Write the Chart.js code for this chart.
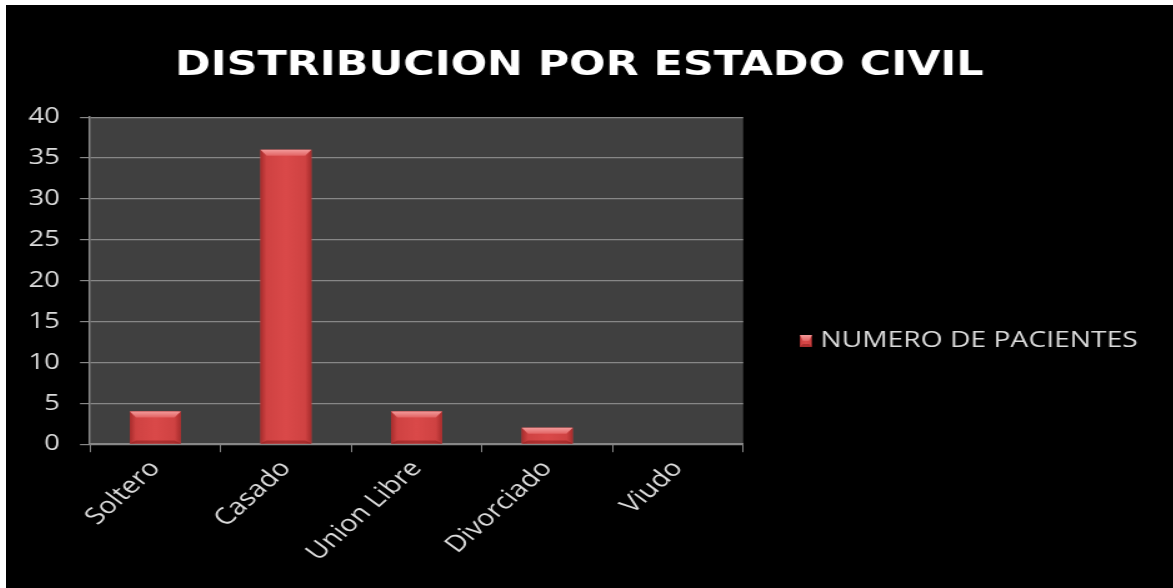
<!DOCTYPE html>
<html lang="es">
<head>
<meta charset="utf-8">
<title>Distribucion por estado civil</title>
<script src="https://cdn.jsdelivr.net/npm/chart.js@4.4.1/dist/chart.umd.min.js"></script>
<style>
    html, body { margin: 0; padding: 0; background: #fff; overflow: hidden; }
    #frame { position: absolute; left: 6px; top: 5px; width: 1167px; height: 583px; background: #000; overflow: hidden; }
    /* el gráfico se dibuja estrecho y se estira a lo ancho del marco */
    #estadoChart { display: block; transform: scaleX(1.25); transform-origin: 0 0; }
</style>
</head>
<body>
<div id="frame"><canvas id="estadoChart" width="934" height="583"></canvas></div>
<script>
// ================================================================
// DATOS
// ================================================================
const categorias  = ['Soltero', 'Casado', 'Union Libre', 'Divorciado', 'Viudo'];
const pacientes   = [4, 36, 4, 2, 0];
const ticksY      = [0, 5, 10, 15, 20, 25, 30, 35, 40];
const tituloTexto = 'DISTRIBUCION POR ESTADO CIVIL';
const serieNombre = 'NUMERO DE PACIENTES';

const GRIS_EJE  = '#878787';
const TEXTO_EJE = '#dcdcdc';
const MARCA_W   = 9.6, MARCA_H = 12;

// Barra roja con bisel (cuerpo degradado + borde superior claro)
function pintarBarra(ctx, left, top, right, bottom) {
    const w = right - left, h = bottom - top;
    if (h < 1) return;
    const bx = Math.min(5, w / 4), by = Math.min(6, h / 2);

    const g = ctx.createLinearGradient(left, 0, right, 0);
    g.addColorStop(0,    '#a62c2c');
    g.addColorStop(0.12, '#cf4242');
    g.addColorStop(0.5,  '#da4949');
    g.addColorStop(0.88, '#cf4242');
    g.addColorStop(1,    '#a62c2c');
    ctx.fillStyle = g;
    ctx.fillRect(left, top, w, h);

    // bisel superior
    const gt = ctx.createLinearGradient(0, top, 0, top + by);
    gt.addColorStop(0, '#f39a9a');
    gt.addColorStop(1, '#e26262');
    ctx.beginPath();
    ctx.moveTo(left, top); ctx.lineTo(right, top);
    ctx.lineTo(right - bx, top + by); ctx.lineTo(left + bx, top + by);
    ctx.closePath();
    ctx.fillStyle = gt; ctx.fill();

    // bisel inferior, algo más oscuro
    const bb = Math.min(3, h / 4);
    ctx.beginPath();
    ctx.moveTo(left, bottom); ctx.lineTo(right, bottom);
    ctx.lineTo(right - bx, bottom - bb); ctx.lineTo(left + bx, bottom - bb);
    ctx.closePath();
    ctx.fillStyle = 'rgba(120,20,20,0.45)'; ctx.fill();
}

const fondoPlugin = {
    id: 'fondo',
    beforeDraw(chart) {
        const { ctx, chartArea: a } = chart;
        ctx.save();
        ctx.fillStyle = '#000';
        ctx.fillRect(0, 0, chart.width, chart.height);
        ctx.fillStyle = '#404040';
        ctx.fillRect(a.left, a.top, a.right - a.left, a.bottom - a.top);
        ctx.restore();
    }
};

// bisel sobre las barras y sobre la marca de la leyenda
const biselPlugin = {
    id: 'bisel',
    afterDatasetsDraw(chart) {
        const ctx = chart.ctx;
        ctx.save();
        chart.getDatasetMeta(0).data.forEach(bar => {
            const { x, y, base, width } = bar.getProps(['x', 'y', 'base', 'width'], true);
            pintarBarra(ctx, x - width / 2, Math.min(y, base), x + width / 2, Math.max(y, base));
        });
        ctx.restore();
    },
    afterDraw(chart) {
        const hb = chart.legend && chart.legend.legendHitBoxes[0];
        if (!hb) return;
        const cy = hb.top + hb.height / 2;
        chart.ctx.save();
        pintarBarra(chart.ctx, hb.left, cy - MARCA_H / 2, hb.left + MARCA_W, cy + MARCA_H / 2);
        chart.ctx.restore();
    }
};

Chart.defaults.font.family = '"Open Sans"';
Chart.defaults.color = TEXTO_EJE;

new Chart(document.getElementById('estadoChart'), {
    type: 'bar',
    data: {
        labels: categorias,
        datasets: [{
            label: serieNombre,
            data: pacientes,
            backgroundColor: '#d04545',
            borderWidth: 0,
            barPercentage: 0.39,
            categoryPercentage: 1
        }]
    },
    options: {
        responsive: false,
        animation: false,
        devicePixelRatio: 1,
        layout: { padding: { left: 2, right: 18.6, top: 0, bottom: 18.6 } },
        scales: {
            x: {
                grid: { drawOnChartArea: false, drawTicks: true, tickLength: 8, color: GRIS_EJE },
                border: { display: true, color: GRIS_EJE, width: 1.5 },
                ticks: { autoSkip: false, minRotation: 48, maxRotation: 48, padding: 3, color: TEXTO_EJE, font: { size: 23 } }
            },
            y: {
                min: ticksY[0],
                max: ticksY[ticksY.length - 1],
                grid: { color: GRIS_EJE, tickLength: 8, lineWidth: 1.2 },
                border: { display: true, color: GRIS_EJE, width: 1.5 },
                ticks: { stepSize: ticksY[1] - ticksY[0], padding: 16, color: TEXTO_EJE, font: { size: 22 } }
            }
        },
        plugins: {
            legend: {
                position: 'right',
                align: 'center',
                maxWidth: 420,
                // título vacío: solo baja la entrada de la leyenda
                title: { display: true, text: '', font: { size: 12 }, padding: { top: 93.2, bottom: 0 } },
                labels: {
                    boxWidth: 5,
                    boxHeight: MARCA_H,
                    padding: 45.4,
                    color: TEXTO_EJE,
                    font: { size: 22.6 }
                }
            },
            tooltip: { enabled: false },
            title: {
                display: true,
                text: tituloTexto,
                color: '#ffffff',
                font: { family: '"DejaVu Sans"', size: 34.3, weight: 'bold' },
                padding: { top: 41, bottom: 30 }
            }
        }
    },
    plugins: [fondoPlugin, biselPlugin]
});
</script>
</body>
</html>
